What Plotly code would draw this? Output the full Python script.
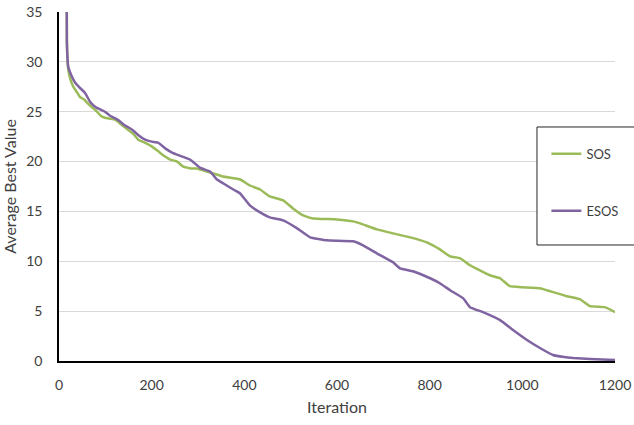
import plotly.graph_objects as go

sos_iter = [15, 17, 20, 25, 31, 38, 45, 55, 63, 70, 78, 90, 99, 110, 121, 135, 149, 160, 171, 185,
            201, 215, 229, 240, 255, 268, 285, 297, 326, 354, 391, 412, 434, 455, 484, 505, 527, 548,
            600, 635, 650, 686, 721, 758, 794, 822, 844, 866, 887, 930, 952, 973, 1000, 1038, 1053,
            1096, 1124, 1146, 1178, 1200]
sos_val = [60, 32, 29.2, 28.2, 27.5, 27.0, 26.5, 26.2, 25.8, 25.5, 25.2, 24.6, 24.4, 24.3, 24.2, 23.7,
           23.2, 22.8, 22.2, 21.9, 21.5, 21.0, 20.5, 20.2, 20.0, 19.5, 19.3, 19.3, 18.9, 18.5, 18.2,
           17.6, 17.2, 16.5, 16.1, 15.3, 14.6, 14.3, 14.2, 14.0, 13.8, 13.2, 12.8, 12.4, 11.9, 11.2,
           10.5, 10.3, 9.6, 8.6, 8.3, 7.5, 7.4, 7.3, 7.1, 6.5, 6.2, 5.5, 5.4, 4.9]

esos_iter = [15, 17, 20, 28, 35, 45, 56, 67, 78, 90, 99, 110, 127, 140, 158, 170, 186, 200, 214, 230,
             244, 260, 283, 304, 326, 341, 355, 369, 380, 391, 412, 434, 455, 484, 514, 542, 578, 635,
             656, 686, 721, 736, 764, 801, 822, 844, 872, 887, 915, 952, 980, 1010, 1038, 1066, 1090,
             1110, 1146, 1200]
esos_val = [60, 32, 29.5, 28.5, 27.9, 27.4, 26.9, 26.0, 25.5, 25.2, 25.0, 24.6, 24.2, 23.7, 23.2, 22.7,
            22.2, 22.0, 21.9, 21.3, 20.9, 20.6, 20.2, 19.4, 19.0, 18.2, 17.8, 17.4, 17.1, 16.8, 15.6,
            14.9, 14.4, 14.1, 13.3, 12.4, 12.1, 12.0, 11.6, 10.8, 9.9, 9.3, 9.0, 8.3, 7.8, 7.1, 6.3,
            5.4, 4.9, 4.1, 3.1, 2.1, 1.3, 0.6, 0.4, 0.3, 0.2, 0.1]

x_ticks = [0, 200, 400, 600, 800, 1000, 1200]
y_ticks = [0, 5, 10, 15, 20, 25, 30, 35]

FONT = "Lato, 'Liberation Sans', sans-serif"
TXT = "#404040"

fig = go.Figure()
fig.add_trace(go.Scatter(x=sos_iter, y=sos_val, mode="lines", name="SOS", legendgroup="a",
                         line=dict(color="#9bbb59", width=2.5, shape="spline", smoothing=0.3)))
fig.add_trace(go.Scatter(x=esos_iter, y=esos_val, mode="lines", name="ESOS", legendgroup="b",
                         line=dict(color="#8064a2", width=2.5, shape="spline", smoothing=0.3)))

fig.update_layout(
    width=634, height=425,
    margin=dict(l=59, r=19, t=12, b=64, autoexpand=False),
    paper_bgcolor="white", plot_bgcolor="white",
    font=dict(family=FONT, size=14, color=TXT),
    showlegend=True,
    legend=dict(x=0.8766, y=0.6365, xanchor="left", yanchor="top",
                bgcolor="rgba(0,0,0,0)", borderwidth=0,
                traceorder="grouped", tracegroupgap=37,
                font=dict(family=FONT, size=13, color=TXT)),
    shapes=[dict(type="rect", xref="paper", yref="paper", x0=0.8597, x1=1.06, y0=0.3324, y1=0.6705,
                 line=dict(color="#262626", width=1), fillcolor="white", layer="above")],
    xaxis=dict(range=[0, 1200], tickvals=x_ticks, ticks="", showgrid=False, zeroline=False,
               showline=True, linecolor="#000000", linewidth=1.5, ticklabelstandoff=10,
               automargin=False,
               title=dict(text="Iteration", standoff=10, font=dict(size=16, color=TXT)),
               tickfont=dict(size=14, color=TXT)),
    yaxis=dict(range=[0, 35], tickvals=y_ticks, ticks="", showgrid=True, gridcolor="#d9d9d9",
               gridwidth=1, zeroline=False, showline=True, linecolor="#000000", linewidth=1.5,
               ticklabelstandoff=12, automargin=False,
               title=dict(text="Average Best Value", standoff=8, font=dict(size=16, color=TXT)),
               tickfont=dict(size=14, color=TXT)),
)

fig.write_html("out.html", config={"displayModeBar": False},
               post_script="document.body.style.margin='0';document.body.style.overflow='hidden';")
